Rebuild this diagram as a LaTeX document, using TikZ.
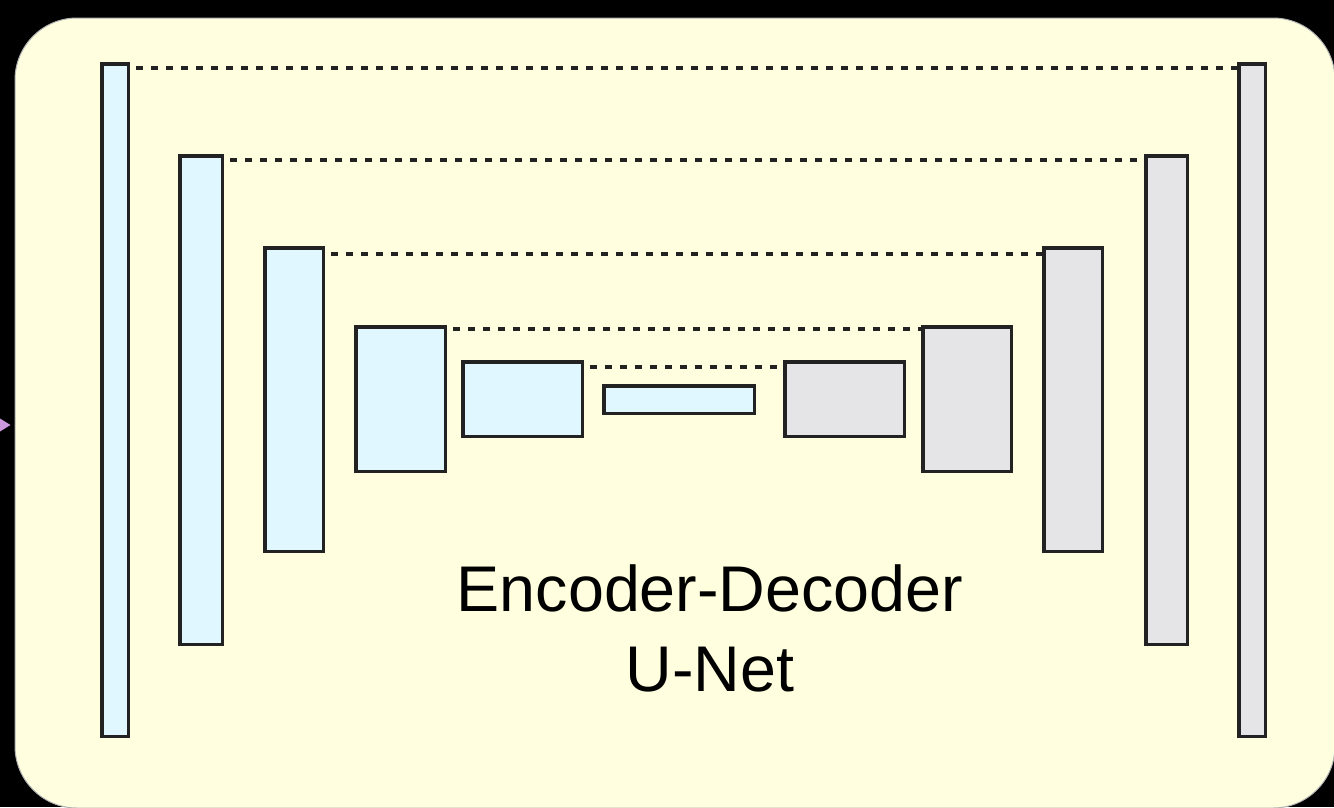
\documentclass[tikz,border=0pt]{standalone}
\usepackage{fontspec}
\setmainfont{Liberation Sans}
\definecolor{bgyellow}{HTML}{FFFFDF}
\definecolor{enccol}{HTML}{E0F7FF}
\definecolor{deccol}{HTML}{E5E5E7}
\definecolor{edge}{HTML}{222222}
\definecolor{pinkarrow}{HTML}{CC99DD}
\tikzset{
  layer/.style={draw=edge, line width=3.5pt, inner sep=0pt, rectangle},
  enc/.style={layer, fill=enccol},
  dec/.style={layer, fill=deccol},
  skipline/.style={draw=edge, line width=3.5pt, dash pattern=on 7pt off 8pt, dash phase=-6pt},
}
\begin{document}
\begin{tikzpicture}[x=1pt, y=-1pt]
\useasboundingbox (0,0) rectangle (1334,807);
\fill[black] (0,0) rectangle (1334,807);
\path[fill=bgyellow, draw=gray!60, line width=1pt, rounded corners=62pt] (15,18) rectangle (1335,808);
\fill[pinkarrow] (0,418.5) -- (10.5,425) -- (0,431.5) -- cycle;
% encoder
\node[enc, minimum width=26.5pt, minimum height=672.5pt] (b1) at (115,400) {};
\node[enc, minimum width=42.5pt, minimum height=488.5pt] (b2) at (201,400) {};
\node[enc, minimum width=58.5pt, minimum height=303.5pt] (b3) at (294,399.5) {};
\node[enc, minimum width=89.5pt, minimum height=144.5pt] (b4) at (400.5,399) {};
\node[enc, minimum width=119.5pt, minimum height=74.5pt] (b5) at (522.5,399) {};
\node[enc, minimum width=150.5pt, minimum height=27.5pt] (b6) at (679,399.5) {};
% decoder
\node[dec, minimum width=119.5pt, minimum height=74.5pt] (b7) at (844.5,399) {};
\node[dec, minimum width=88.5pt, minimum height=144.5pt] (b8) at (967,399) {};
\node[dec, minimum width=58.5pt, minimum height=303.5pt] (b9) at (1073,399.5) {};
\node[dec, minimum width=41.5pt, minimum height=488.5pt] (b10) at (1166.5,400) {};
\node[dec, minimum width=26.5pt, minimum height=672.5pt] (b11) at (1252,400) {};
% skip connections
\draw[skipline] (b1.east |- 0,68) -- (b11.west |- 0,68);
\draw[skipline] (b2.east |- 0,160) -- (b10.west |- 0,160);
\draw[skipline] (b3.east |- 0,254) -- (b9.west |- 0,254);
\draw[skipline] (b4.east |- 0,329) -- (b8.west |- 0,329);
\draw[skipline] (b5.east |- 0,367) -- (b7.west |- 0,367);
% label
\node[align=center, inner sep=0pt, font=\fontsize{64.6pt}{80pt}\selectfont] (lbl) at (710,628.5) {Encoder-Decoder\\U-Net};
\end{tikzpicture}
\end{document}
